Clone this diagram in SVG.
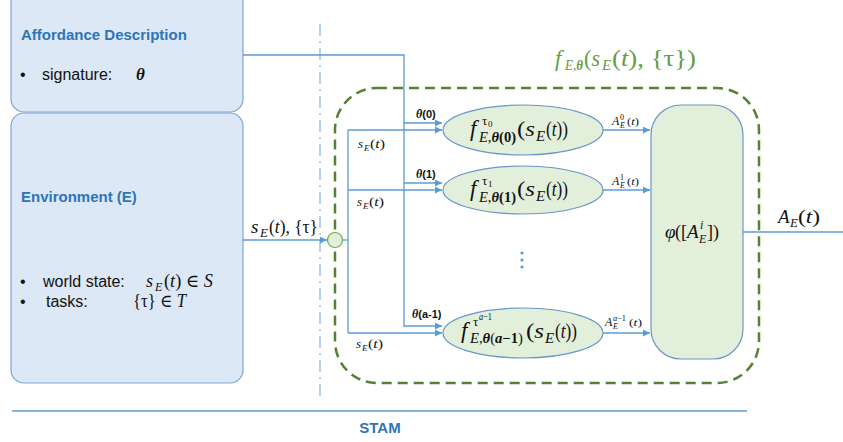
<svg xmlns="http://www.w3.org/2000/svg" width="843" height="442" viewBox="0 0 843 442">
<defs>
<style>
.box{fill:#dce8f5;stroke:#7ea6d3;stroke-width:1.2}
.gfill{fill:#e2efda;stroke:#6a96c8;stroke-width:1.2}
.ln{fill:none;stroke:#5b9bd5;stroke-width:1.3}
.head{font-family:"Liberation Sans",Arial,sans-serif;font-weight:bold;font-size:15px;fill:#2e75b6}
.body{font-family:"Liberation Sans",Arial,sans-serif;font-size:16px;fill:#111}
.m{font-family:"Liberation Serif","DejaVu Serif",serif;fill:#111}
.g{fill:#6a9b45}
.i{font-style:italic}
.b{font-weight:bold}
.lbl{font-family:"Liberation Sans",Arial,sans-serif;font-weight:bold;font-size:11px;fill:#111}
</style>
<marker id="ar" viewBox="0 0 10 10" refX="10" refY="5" markerWidth="7" markerHeight="7" markerUnits="userSpaceOnUse" orient="auto">
<path d="M0,0 L10,5 L0,10 z" fill="#5b9bd5"/>
</marker>
</defs>
<rect width="843" height="442" fill="#ffffff"/>

<!-- divider -->
<line x1="320" y1="24" x2="320" y2="397" stroke="#9dc3e6" stroke-width="1.5" stroke-dasharray="12 5 2 5"/>

<g id="container">
<rect x="335" y="88" width="424" height="295" rx="42" ry="42" fill="none" stroke="#548235" stroke-width="2.5" stroke-dasharray="10 6"/>
<text class="m g i" font-size="23" x="555" y="66">f</text>
<text class="m g i" font-size="15" x="565" y="70" textLength="18" lengthAdjust="spacingAndGlyphs">E,<tspan class="b">θ</tspan></text>
<text class="m g" font-size="23" x="584" y="66" textLength="16" lengthAdjust="spacingAndGlyphs">(<tspan class="i">s</tspan></text>
<text class="m g i" font-size="15" x="602" y="70">E</text>
<text class="m g" font-size="23" x="612" y="66" textLength="84" lengthAdjust="spacingAndGlyphs">(<tspan class="i">t</tspan>), {τ})</text>
</g>

<g id="affordance">
<rect class="box" x="11" y="-12" width="232" height="124" rx="13" ry="13"/>
<text class="head" x="21" y="40">Affordance Description</text>
<text class="body" x="20" y="80">•</text>
<text class="body" x="42" y="80">signature:</text>
<text class="m i b" x="136" y="80" font-size="17">θ</text>
</g>

<g id="environment">
<rect class="box" x="11" y="113" width="232" height="270" rx="13" ry="13"/>
<text class="head" x="21" y="202">Environment (E)</text>
<text class="body" x="20" y="287">•</text>
<text class="body" x="43" y="287">world state:</text>
<text class="m i" font-size="18" x="146" y="287">s</text>
<text class="m i" font-size="12" x="155" y="291">E</text>
<text class="m" font-size="18" x="164" y="287" textLength="49" lengthAdjust="spacingAndGlyphs">(<tspan class="i">t</tspan>) ∈ <tspan class="i">S</tspan></text>
<text class="body" x="20" y="307">•</text>
<text class="body" x="46" y="307">tasks:</text>
<text class="m" font-size="18" x="133" y="307" textLength="53" lengthAdjust="spacingAndGlyphs">{τ} ∈ <tspan class="i">T</tspan></text>
</g>

<g id="connectors">
<polyline class="ln" points="243,55 404,55 404,327"/>
<line class="ln" x1="404" y1="123" x2="442" y2="123" marker-end="url(#ar)"/>
<line class="ln" x1="404" y1="183" x2="442" y2="183" marker-end="url(#ar)"/>
<line class="ln" x1="404" y1="326" x2="442" y2="326" marker-end="url(#ar)"/>
<line class="ln" x1="243" y1="240" x2="327" y2="240" marker-end="url(#ar)"/>
<polyline class="ln" points="343,240 348,240"/>
<line class="ln" x1="348" y1="130" x2="348" y2="333"/>
<line class="ln" x1="348" y1="130" x2="442" y2="130" marker-end="url(#ar)"/>
<line class="ln" x1="348" y1="190" x2="442" y2="190" marker-end="url(#ar)"/>
<line class="ln" x1="348" y1="333" x2="442" y2="333" marker-end="url(#ar)"/>
<line class="ln" x1="603" y1="130" x2="650" y2="130" marker-end="url(#ar)"/>
<line class="ln" x1="603" y1="190" x2="650" y2="190" marker-end="url(#ar)"/>
<line class="ln" x1="603" y1="333" x2="650" y2="333" marker-end="url(#ar)"/>
<line class="ln" x1="743" y1="232" x2="843" y2="232"/>

<!-- input label -->
<text class="m i" font-size="19" x="251" y="233">s</text>
<text class="m i" font-size="13" x="260" y="237">E</text>
<text class="m" font-size="19" x="269" y="233" textLength="49" lengthAdjust="spacingAndGlyphs">(<tspan class="i">t</tspan>), {τ}</text>

<!-- s_E(t) labels -->
<text class="m i" font-size="13" x="358" y="148">s</text>
<text class="m i" font-size="9" x="364" y="151">E</text>
<text class="m" font-size="13" x="370" y="148" textLength="15" lengthAdjust="spacingAndGlyphs">(<tspan class="i">t</tspan>)</text>
<text class="m i" font-size="13" x="357" y="206">s</text>
<text class="m i" font-size="9" x="363" y="209">E</text>
<text class="m" font-size="13" x="369" y="206" textLength="15" lengthAdjust="spacingAndGlyphs">(<tspan class="i">t</tspan>)</text>
<text class="m i" font-size="13" x="356" y="348">s</text>
<text class="m i" font-size="9" x="362" y="351">E</text>
<text class="m" font-size="13" x="368" y="348" textLength="15" lengthAdjust="spacingAndGlyphs">(<tspan class="i">t</tspan>)</text>

<!-- theta labels -->
<text class="lbl" x="416" y="118"><tspan class="m i b" font-size="12">θ</tspan>(0)</text>
<text class="lbl" x="416" y="178"><tspan class="m i b" font-size="12">θ</tspan>(1)</text>
<text class="lbl" x="412" y="318"><tspan class="m i b" font-size="12">θ</tspan>(a-1)</text>

<!-- A labels -->
<text class="m i" font-size="12" x="612" y="125">A</text>
<text class="m" font-size="8" x="620" y="120">0</text>
<text class="m i" font-size="8" x="620" y="128">E</text>
<text class="m" font-size="11" x="627" y="125" textLength="12" lengthAdjust="spacingAndGlyphs">(<tspan class="i">t</tspan>)</text>

<text class="m i" font-size="12" x="612" y="185">A</text>
<text class="m" font-size="8" x="620" y="180">1</text>
<text class="m i" font-size="8" x="620" y="188">E</text>
<text class="m" font-size="11" x="627" y="185" textLength="12" lengthAdjust="spacingAndGlyphs">(<tspan class="i">t</tspan>)</text>

<text class="m i" font-size="12" x="605" y="326">A</text>
<text class="m" font-size="8" x="613" y="321" textLength="13" lengthAdjust="spacingAndGlyphs"><tspan class="i">a</tspan>−1</text>
<text class="m i" font-size="8" x="613" y="329">E</text>
<text class="m" font-size="11" x="629" y="326" textLength="13" lengthAdjust="spacingAndGlyphs">(<tspan class="i">t</tspan>)</text>

<!-- output label -->
<text class="m i" font-size="19" x="778" y="223">A</text>
<text class="m i" font-size="13" x="790" y="227">E</text>
<text class="m" font-size="19" x="798" y="223" textLength="22" lengthAdjust="spacingAndGlyphs">(<tspan class="i">t</tspan>)</text>
</g>

<g id="junction">
<circle cx="335" cy="240" r="7.5" fill="#e2efda" stroke="#70ad47" stroke-width="1.2"/>
</g>

<g id="f0">
<ellipse class="gfill" cx="523" cy="130" rx="80" ry="25"/>
<text class="m i" font-size="23" x="470" y="136">f</text>
<text class="m" font-size="13" x="482" y="125">τ</text>
<text class="m" font-size="9" x="488" y="127">0</text>
<text class="m" font-size="14" x="479" y="142" textLength="37" lengthAdjust="spacingAndGlyphs"><tspan class="i">E</tspan>,<tspan class="i b">θ</tspan><tspan class="b">(0)</tspan></text>
<text class="m" font-size="22" x="517" y="136" textLength="18" lengthAdjust="spacingAndGlyphs">(<tspan class="i">s</tspan></text>
<text class="m i" font-size="15" x="536" y="141">E</text>
<text class="m" font-size="22" x="546" y="136" textLength="22" lengthAdjust="spacingAndGlyphs">(<tspan class="i">t</tspan>))</text>
</g>

<g id="f1">
<ellipse class="gfill" cx="523" cy="190" rx="80" ry="24"/>
<text class="m i" font-size="23" x="470" y="196">f</text>
<text class="m" font-size="13" x="482" y="185">τ</text>
<text class="m" font-size="9" x="488" y="187">1</text>
<text class="m" font-size="14" x="479" y="202" textLength="37" lengthAdjust="spacingAndGlyphs"><tspan class="i">E</tspan>,<tspan class="i b">θ</tspan><tspan class="b">(1)</tspan></text>
<text class="m" font-size="22" x="517" y="196" textLength="18" lengthAdjust="spacingAndGlyphs">(<tspan class="i">s</tspan></text>
<text class="m i" font-size="15" x="536" y="201">E</text>
<text class="m" font-size="22" x="546" y="196" textLength="22" lengthAdjust="spacingAndGlyphs">(<tspan class="i">t</tspan>))</text>
</g>

<g id="dots" fill="#5b9bd5">
<circle cx="522" cy="253" r="1.6"/>
<circle cx="522" cy="260" r="1.6"/>
<circle cx="522" cy="267" r="1.6"/>
</g>

<g id="fa1">
<ellipse class="gfill" cx="523" cy="333" rx="80" ry="25"/>
<text class="m i" font-size="23" x="461" y="338">f</text>
<text class="m" font-size="13" x="473" y="326">τ</text>
<text class="m" font-size="10" x="479" y="320" textLength="13" lengthAdjust="spacingAndGlyphs"><tspan class="i">a</tspan>−1</text>
<text class="m" font-size="14" x="470" y="343" textLength="53" lengthAdjust="spacingAndGlyphs"><tspan class="i">E</tspan>,<tspan class="i b">θ</tspan>(<tspan class="i b">a</tspan><tspan class="b">−1</tspan>)</text>
<text class="m" font-size="22" x="526" y="338" textLength="18" lengthAdjust="spacingAndGlyphs">(<tspan class="i">s</tspan></text>
<text class="m i" font-size="15" x="545" y="343">E</text>
<text class="m" font-size="22" x="555" y="338" textLength="22" lengthAdjust="spacingAndGlyphs">(<tspan class="i">t</tspan>))</text>
</g>

<g id="phi">
<rect class="gfill" x="651" y="105" width="92" height="254" rx="30" ry="30"/>
<text class="m i" font-size="19" x="665" y="238">φ</text>
<text class="m" font-size="19" x="675" y="238" textLength="12" lengthAdjust="spacingAndGlyphs">([</text>
<text class="m i" font-size="19" x="687" y="238">A</text>
<text class="m i" font-size="12" x="700" y="229">i</text>
<text class="m i" font-size="12" x="699" y="243">E</text>
<text class="m" font-size="19" x="707" y="238" textLength="12" lengthAdjust="spacingAndGlyphs">])</text>
</g>

<g id="stam">
<line x1="12" y1="411" x2="747" y2="411" stroke="#5b9bd5" stroke-width="1.5"/>
<text class="head" x="380" y="433" text-anchor="middle">STAM</text>
</g>
</svg>
